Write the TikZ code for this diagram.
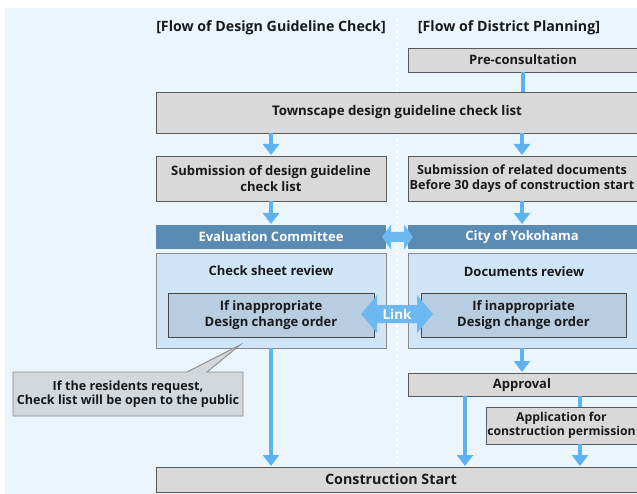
\documentclass[tikz,border=0pt]{standalone}
\usepackage{fontspec}
\setmainfont{Open Sans}
\usetikzlibrary{arrows.meta}

\definecolor{bgblue}{HTML}{EAF5FE}
\definecolor{boxgray}{HTML}{D9D9D9}
\definecolor{notegray}{HTML}{D3D8DD}
\definecolor{edgegray}{HTML}{5A5A5A}
\definecolor{barblue}{HTML}{5A8BB5}
\definecolor{panelblue}{HTML}{D0E5F8}
\definecolor{paneledge}{HTML}{8A8A8A}
\definecolor{innerblue}{HTML}{B8CDE1}
\definecolor{flowblue}{HTML}{5DB3F0}
\definecolor{linkblue}{HTML}{6CB9F2}

\tikzset{
  txt/.style={font=\bfseries\fontsize{13}{15.5}\selectfont, text=black!90, align=center, inner sep=0pt},
  graybox/.style={txt, draw=edgegray, fill=boxgray, line width=0.9pt},
  bar/.style={font=\bfseries\fontsize{13}{15}\selectfont, text=white, fill=barblue, inner sep=0pt, align=center},
  panel/.style={draw=paneledge, fill=panelblue, line width=0.9pt},
  innerbox/.style={txt, draw=edgegray!80!black, fill=innerblue, line width=0.9pt},
  flow/.style={draw=flowblue, line width=4pt, -{Triangle[width=16pt,length=11pt]}},
  plain/.style={draw=flowblue, line width=4pt},
}

\begin{document}
\begin{tikzpicture}[x=1pt, y=-1pt]
  \useasboundingbox (0,0) rectangle (637,494);
  \fill[bgblue] (5,8) rectangle (640,497);

  % column divider
  \draw[white, line width=2.6pt, dash pattern=on 3pt off 3pt] (397,18) -- (397,470);

  % headers
  \node[txt, font=\bfseries\fontsize{14.2}{16}\selectfont] (hl) at (271,28) {[Flow of Design Guideline Check]};
  \node[txt, font=\bfseries\fontsize{14.2}{16}\selectfont] (hr) at (509,28) {[Flow of District Planning]};

  % gray process boxes
  \node[graybox, minimum width=232pt, minimum height=24pt, anchor=north west] (pre) at (408,48) {};
  \node[txt] at (523,60) {Pre-consultation};
  \node[graybox, minimum width=484pt, minimum height=41pt, anchor=north west] (town) at (156,92) {};
  \node[txt, font=\bfseries\fontsize{13.3}{15}\selectfont] at (397,112.5) {Townscape design guideline check list};
  \node[graybox, minimum width=230pt, minimum height=45pt, anchor=north west] (subL) at (156,156) {};
  \node[txt] at (271,178.5) {Submission of design guideline\\check list};
  \node[graybox, minimum width=232pt, minimum height=45pt, anchor=north west] (subR) at (408,156) {};
  \node[txt, font=\bfseries\fontsize{12.6}{15.5}\selectfont] at (522,178.5) {Submission of related documents\\Before 30 days of construction start};

  % committee / city bars
  \node[bar, minimum width=230pt, minimum height=24pt, anchor=north west] (evalL) at (156,225) {};
  \node[bar] at (271,237) {Evaluation Committee};
  \node[bar, minimum width=232pt, minimum height=24pt, anchor=north west] (evalR) at (408,225) {};
  \node[bar] at (522,237) {City of Yokohama};

  % review panels
  \node[panel, minimum width=230pt, minimum height=95pt, anchor=north west] (revL) at (156,253) {};
  \node[txt] at (271,271) {Check sheet review};
  \node[innerbox, minimum width=206pt, minimum height=44pt, anchor=north west] (inL) at (168,293) {};
  \node[txt] at (271,315) {If inappropriate\\Design change order};
  \node[panel, minimum width=232pt, minimum height=95pt, anchor=north west] (revR) at (408,253) {};
  \node[txt] at (524,272) {Documents review};
  \node[innerbox, minimum width=205pt, minimum height=44pt, anchor=north west] (inR) at (421,293) {};
  \node[txt] at (523.5,315) {If inappropriate\\Design change order};

  % approval and permission
  \node[graybox, minimum width=232pt, minimum height=23pt, anchor=north west] (appr) at (408,373) {};
  \node[txt] at (522,385) {Approval};
  \node[graybox, minimum width=154pt, minimum height=37pt, anchor=north west] (perm) at (486,407) {};
  \node[txt, font=\bfseries\fontsize{12.2}{14.5}\selectfont] at (561.5,425.5) {Application for\\construction permission};

  % construction start
  \node[graybox, minimum width=484pt, minimum height=25pt, anchor=north west] (cs) at (156,467) {};
  \node[txt, font=\bfseries\fontsize{14.3}{16}\selectfont] at (391,479.5) {Construction Start};

  % residents callout
  \filldraw[fill=notegray, draw=paneledge, line width=0.9pt]
    (13,372) -- (187,372) -- (240,345) -- (207,372) -- (243,372) -- (243,416) -- (13,416) -- cycle;
  \node[txt, font=\bfseries\fontsize{12.6}{14.5}\selectfont] (call) at (128,394) {If the residents request,\\Check list will be open to the public};

  % flow arrows
  \coordinate (a1) at (523,72);  \coordinate (a2) at (523,92);
  \draw[plain] (a1) -- (a2);
  \draw[flow] (271,133) -- (271,155);
  \draw[flow] (522,133) -- (522,155);
  \draw[flow] (271,201) -- (271,224);
  \draw[flow] (522,201) -- (522,224);
  \draw[flow] (271,348) -- (271,466);
  \draw[flow] (522,348) -- (522,372);
  \draw[flow] (465,396) -- (465,466);
  \draw[plain] (580,396) -- (580,407);
  \draw[flow] (580,444) -- (580,466);

  % two-way arrow between committee and city
  \fill[linkblue] (382,237) -- (391,224.5) -- (391,232) -- (404,232) -- (404,224.5) -- (413,237)
    -- (404,249.5) -- (404,242) -- (391,242) -- (391,249.5) -- cycle;

  % link arrow between the two review steps
  \fill[linkblue] (361,314) -- (377,295) -- (377,305) -- (417,305) -- (417,295) -- (433,314)
    -- (417,333) -- (417,323) -- (377,323) -- (377,333) -- cycle;
  \node[txt, text=white, font=\bfseries\fontsize{13.5}{15}\selectfont] (link) at (397,314) {Link};
\end{tikzpicture}
\end{document}
